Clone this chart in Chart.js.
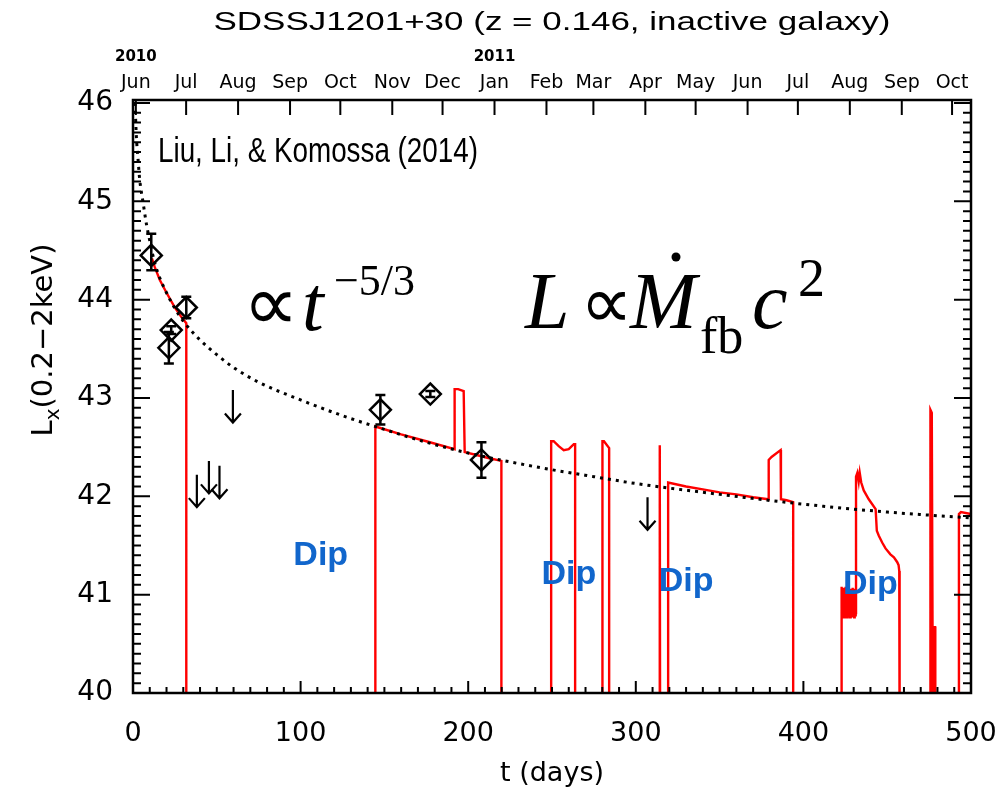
<!DOCTYPE html>
<html><head><meta charset="utf-8">
<script src="https://cdn.jsdelivr.net/npm/chart.js@4.4.1/dist/chart.umd.min.js"></script>
<style>html,body{margin:0;padding:0;background:#fff;}#wrap{width:1004px;height:797px;}</style>
</head><body><div id="wrap"><canvas id="c" width="1004" height="797"></canvas></div>
<script>
// ---------------- data ----------------
const titleText = "SDSSJ1201+30 (z = 0.146, inactive galaxy)";
const monthNames = ["Jun","Jul","Aug","Sep","Oct","Nov","Dec","Jan","Feb","Mar","Apr","May","Jun","Jul","Aug","Sep","Oct"];
const monthDays  = [1.7,31.7,62.7,93.7,123.7,154.7,184.7,215.7,246.7,274.7,305.7,335.7,366.7,396.7,427.7,458.7,488.7];
const yearLabels = ["2010","2011"];
const yearDays   = [1.7,215.7];
const xTickValues = [0,100,200,300,400,500];
const yTickValues = [40,41,42,43,44,45,46];

// observed detections (diamonds with error bars)
const obsT  = [10.9, 31.8, 22.8, 21.4, 147.6, 177.4, 207.9];
const obsL  = [44.45, 43.92, 43.69, 43.51, 42.88, 43.04, 42.37];
const errHi = [0.22, 0.11, 0.04, 0.16, 0.15, 0.03, 0.18];
const errLo = [0.15, 0.11, 0.04, 0.16, 0.15, 0.03, 0.18];

// upper limits (arrows)
const limT = [38.1, 45.3, 51.6, 59.6, 307.0];
const limL = [42.22, 42.36, 42.31, 43.08, 41.99];

// t^-5/3 curve (dotted)
const fitT = [1.2, 2, 3, 4, 6, 8, 10, 13, 16, 20, 25, 31, 40, 50, 60, 75, 100, 125, 150, 175, 200, 225, 250, 275, 300, 350, 400, 450, 500];
const fitL = [46.0, 45.66, 45.43, 45.22, 44.99, 44.77, 44.60, 44.37, 44.22, 44.07, 43.91, 43.76, 43.59, 43.44, 43.31, 43.16, 42.98, 42.82, 42.68, 42.55, 42.44, 42.35, 42.27, 42.20, 42.13, 42.02, 41.92, 41.84, 41.78];

// model light curve with dips (red); 39.5 = below the axis (dip)
const modelT = [11.3,13,16,20,25,29,31.8,31.8,
  144.6,144.6,160,175,191.9,191.9,194,197.3,197.9,205,212,219.8,219.8,
  249.5,249.5,251,254,257,260,263,263.8,263.8,
  280.1,280.1,281,284.1,284.1,
  314.2,314.3,314.5,
  319.3,319.3,330,340,350,360,370,379,379.3,381,386.4,386.6,390,393.9,393.9,
  422.8,422.8,423.1,423.4,423.7,424.0,424.3,424.6,424.9,425.2,425.5,425.8,426.1,426.4,426.7,427.0,427.3,427.6,427.9,428.2,428.5,428.8,429.1,429.4,429.7,430.0,430.3,430.6,430.9,431.2,431.4,
  431.4,432.2,433,433.6,434.5,436,439,443.1,443.8,445,447,449,451.9,454,456,456.8,457.2,457.4,
  475.6,475.8,476.6,477.3,478.2,478.3,478.6,478.7,
  492.8,492.8,494,500];
const modelL = [44.42,44.33,44.2,44.07,43.92,43.82,43.76,39.5,
  39.5,42.71,42.63,42.56,42.48,43.09,43.09,43.07,42.45,42.42,42.39,42.36,39.5,
  39.5,42.56,42.56,42.51,42.47,42.48,42.53,42.53,39.5,
  39.5,42.56,42.56,42.49,39.5,
  39.5,42.52,39.5,
  39.5,42.14,42.10,42.07,42.04,42.02,41.99,41.97,42.37,42.40,42.47,41.97,41.96,41.94,39.5,
  39.5,41.08,40.78,41.06,40.77,41.07,40.79,41.05,40.77,41.08,40.80,41.04,40.77,41.06,40.78,41.07,40.80,41.05,40.77,41.06,40.79,41.04,40.78,41.07,40.80,41.05,40.77,41.06,40.79,41.04,40.80,
  42.20,42.24,42.15,42.24,42.14,42.06,41.97,41.87,41.65,41.60,41.53,41.47,41.41,41.38,41.33,41.30,41.24,39.5,
  39.5,42.88,42.85,39.5,39.5,40.67,40.67,39.5,
  39.5,41.82,41.84,41.82];

// "Dip" labels (t, L of label centre)
const dipT = [112, 260, 330, 440];
const dipL = [41.40, 41.20, 41.13, 41.10];
const dipText = ["Dip","Dip","Dip","Dip"];

// ---------------- helpers ----------------
const toXY = (T, L) => T.map((t, i) => ({x: t, y: L[i]}));
const tickFont = "'DejaVu Sans'";

function fitDraw(ctx, text, px, py, targetW, align) {
  const w = ctx.measureText(text).width;
  const sx = targetW / w;
  ctx.save();
  ctx.textAlign = 'left';
  const left = align === 'center' ? px - targetW / 2 : px;
  ctx.translate(left, py);
  ctx.scale(sx, 1);
  ctx.fillText(text, 0, 0);
  ctx.restore();
}

const overlay = {
  id: 'overlay',
  afterDatasetsDraw(chart) {
    const {ctx, chartArea: a, scales} = chart;
    const x = scales.x, y = scales.y;
    ctx.save();
    ctx.strokeStyle = '#000';
    ctx.lineCap = 'butt';
    // error bars
    ctx.lineWidth = 2.5;
    obsT.forEach((t, i) => {
      const px = x.getPixelForValue(t);
      const y1 = y.getPixelForValue(obsL[i] + errHi[i]);
      const y2 = y.getPixelForValue(obsL[i] - errLo[i]);
      ctx.beginPath();
      ctx.moveTo(px, y1); ctx.lineTo(px, y2);
      ctx.moveTo(px - 5, y1); ctx.lineTo(px + 5, y1);
      ctx.moveTo(px - 5, y2); ctx.lineTo(px + 5, y2);
      ctx.stroke();
    });
    // upper-limit arrows
    ctx.lineWidth = 2.2;
    limT.forEach((t, i) => {
      const px = x.getPixelForValue(t);
      const y1 = y.getPixelForValue(limL[i]);
      const y2 = y.getPixelForValue(limL[i] - 0.33);
      ctx.beginPath();
      ctx.moveTo(px, y1); ctx.lineTo(px, y2);
      ctx.moveTo(px - 8, y2 - 9); ctx.lineTo(px, y2); ctx.lineTo(px + 8, y2 - 9);
      ctx.stroke();
    });
    // frame
    ctx.lineWidth = 2.5;
    ctx.strokeRect(a.left, a.top, a.right - a.left, a.bottom - a.top);
    // inward ticks
    ctx.lineWidth = 2;
    ctx.beginPath();
    for (let v = 0; v <= 500.001; v += 10) {
      const px = x.getPixelForValue(v);
      const len = (Math.round(v) % 100 === 0) ? 12 : 6;
      ctx.moveTo(px, a.bottom); ctx.lineTo(px, a.bottom - len);
    }
    for (let k = 0; k <= 60; k++) {
      const v = 40 + k / 10;
      const py = y.getPixelForValue(v);
      const len = (k % 10 === 0) ? 17 : 8;
      ctx.moveTo(a.left, py); ctx.lineTo(a.left + len, py);
      ctx.moveTo(a.right, py); ctx.lineTo(a.right - len, py);
    }
    monthDays.forEach(d => {
      const px = x.getPixelForValue(d);
      ctx.moveTo(px, a.top); ctx.lineTo(px, a.top + 15);
    });
    ctx.stroke();
    ctx.restore();
  },
  afterDraw(chart) {
    const {ctx, chartArea: a, scales} = chart;
    const x = scales.x, y = scales.y;
    ctx.save();
    ctx.fillStyle = '#000';
    const cx = (a.left + a.right) / 2;
    // title
    ctx.textAlign = 'center'; ctx.textBaseline = 'middle';
    ctx.font = "25px 'Liberation Sans'";
    fitDraw(ctx, titleText, cx, 23, 677, 'center');
    // year labels
    ctx.font = "bold 15px " + tickFont;
    yearLabels.forEach((s, i) => ctx.fillText(s, x.getPixelForValue(yearDays[i]), 57));
    // x title
    ctx.font = "27px " + tickFont;
    ctx.fillText("t (days)", cx, 774);
    // y title (rotated)
    ctx.save();
    ctx.translate(42, 340);
    ctx.rotate(-Math.PI / 2);
    ctx.textAlign = 'left'; ctx.textBaseline = 'alphabetic';
    const f1 = "29px " + tickFont, f2 = "20px " + tickFont;
    ctx.font = f1; const wL = ctx.measureText("L").width; const wR = ctx.measureText("(0.2\u22122keV)").width;
    ctx.font = f2; const wx = ctx.measureText("x").width;
    const W = wL + wx + wR;
    let px0 = -W / 2;
    ctx.font = f1; ctx.fillText("L", px0, 10); px0 += wL;
    ctx.font = f2; ctx.fillText("x", px0, 17); px0 += wx;
    ctx.font = f1; ctx.fillText("(0.2\u22122keV)", px0, 10);
    ctx.restore();
    // reference
    ctx.textAlign = 'left'; ctx.textBaseline = 'middle';
    ctx.font = "35px 'Liberation Sans'";
    fitDraw(ctx, "Liu, Li, & Komossa (2014)", 158, 152, 320, 'left');
    // formula 1
    ctx.textBaseline = 'alphabetic';
    ctx.font = "78px 'Liberation Serif'";
    ctx.fillText("\u221D", 243, 330);
    ctx.font = "italic 78px 'Liberation Serif'";
    ctx.fillText("t", 302, 330);
    ctx.font = "44px 'Liberation Serif'";
    ctx.fillText("\u22125/3", 334, 295);
    // formula 2
    ctx.font = "italic 80px 'Liberation Serif'";
    ctx.fillText("L", 525, 328);
    ctx.font = "74px 'Liberation Serif'";
    ctx.fillText("\u221D", 580, 328);
    ctx.font = "italic 80px 'Liberation Serif'";
    ctx.fillText("M", 630, 328);
    ctx.beginPath(); ctx.arc(676, 257, 4.5, 0, Math.PI * 2); ctx.fill();
    ctx.font = "52px 'Liberation Serif'";
    ctx.fillText("fb", 700, 353);
    ctx.font = "italic 80px 'Liberation Serif'";
    ctx.fillText("c", 752, 328);
    ctx.font = "54px 'Liberation Serif'";
    ctx.fillText("2", 798, 296);
    // Dip labels
    ctx.fillStyle = '#1166cc';
    ctx.font = "bold 34px 'Liberation Sans'";
    ctx.textAlign = 'center'; ctx.textBaseline = 'middle';
    dipText.forEach((s, i) => ctx.fillText(s, x.getPixelForValue(dipT[i]), y.getPixelForValue(dipL[i])));
    ctx.restore();
  }
};

const noPadX = s => { s.paddingLeft = 0; s.paddingRight = 0; };
const noPadY = s => { s.paddingTop = 0; s.paddingBottom = 0; };

const chart = new Chart(document.getElementById('c'), {
  type: 'scatter',
  data: {
    datasets: [
      { label: 'model', data: toXY(modelT, modelL), showLine: true, borderColor: '#ff0000', borderWidth: 2.4,
        pointRadius: 0, tension: 0, fill: false, order: 2 },
      { label: 'fit', data: toXY(fitT, fitL), showLine: true, borderColor: '#000', borderWidth: 3,
        borderDash: [3, 5], pointRadius: 0, cubicInterpolationMode: 'monotone', fill: false, order: 1 },
      { label: 'obs', data: toXY(obsT, obsL), showLine: false, pointStyle: 'rectRot', pointRadius: 10.5,
        pointBorderWidth: 2.5, pointBorderColor: '#000', pointBackgroundColor: 'rgba(0,0,0,0)', order: 0 }
    ]
  },
  options: {
    responsive: false, animation: false, devicePixelRatio: 1,
    layout: { padding: 0 },
    plugins: { legend: { display: false }, title: { display: false }, tooltip: { enabled: false } },
    scales: {
      x: { type: 'linear', position: 'bottom', min: 0, max: 500,
        afterBuildTicks: s => { s.ticks = xTickValues.map(v => ({value: v})); },
        ticks: { font: { family: tickFont, size: 27 }, color: '#000', padding: 25, maxRotation: 0, autoSkip: false },
        grid: { display: false, drawTicks: false }, border: { display: false },
        afterFit: s => { s.height = 104; noPadX(s); } },
      x2: { type: 'linear', position: 'top', min: 0, max: 500,
        afterBuildTicks: s => { s.ticks = monthDays.map(v => ({value: v})); },
        ticks: { callback: (v, i) => monthNames[i], font: { family: tickFont, size: 19 }, color: '#000', padding: 6, maxRotation: 0, autoSkip: false },
        grid: { display: false, drawTicks: false }, border: { display: false },
        afterFit: s => { s.height = 100; noPadX(s); } },
      y: { type: 'linear', position: 'left', min: 40, max: 46.03,
        afterBuildTicks: s => { s.ticks = yTickValues.map(v => ({value: v})); },
        ticks: { font: { family: tickFont, size: 28 }, color: '#000', padding: 20 },
        grid: { display: false, drawTicks: false }, border: { display: false },
        afterFit: s => { s.width = 133; noPadY(s); } },
      y2: { type: 'linear', position: 'right', min: 40, max: 46.03,
        ticks: { display: false }, grid: { display: false, drawTicks: false }, border: { display: false },
        afterFit: s => { s.width = 33; noPadY(s); } }
    }
  },
  plugins: [overlay]
});
</script></body></html>
